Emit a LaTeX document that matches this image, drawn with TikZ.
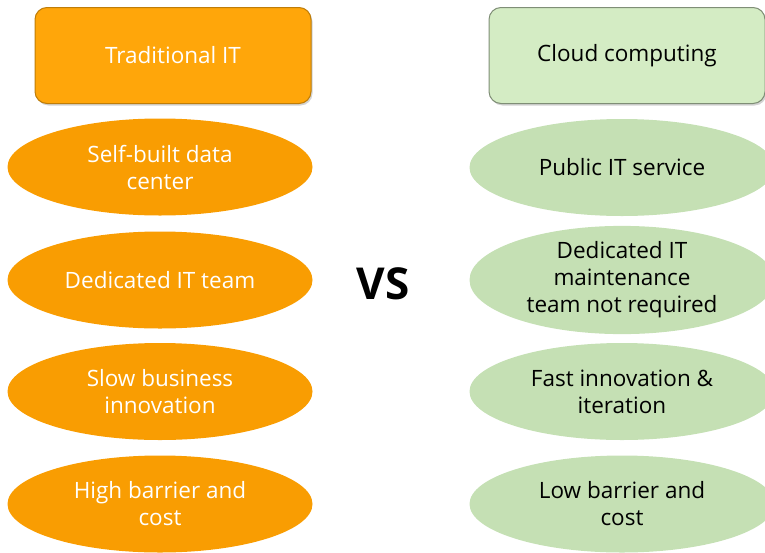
\documentclass[tikz,border=0pt]{standalone}
\usepackage{fontspec}
\setmainfont{Open Sans}
\usetikzlibrary{shapes.geometric,shadows}
\definecolor{tradorange}{RGB}{249,157,2}
\definecolor{headorange}{RGB}{255,166,10}
\definecolor{cloudgreen}{RGB}{197,224,180}
\definecolor{headgreen}{RGB}{212,236,196}
\tikzset{
	headbox/.style={rounded corners=12pt, minimum width=276pt, minimum height=96pt, line width=1pt,
		font=\fontsize{22.5}{27}\selectfont, drop shadow={shadow xshift=1.5pt, shadow yshift=-2pt, opacity=0.35}},
	itemoval/.style={ellipse, minimum width=305pt, minimum height=97pt, inner sep=0pt, align=center,
		font=\fontsize{22.5}{27}\selectfont},
	tradoval/.style={itemoval, fill=tradorange, text=white},
	cloudoval/.style={itemoval, fill=cloudgreen, text=black}
}

\begin{document}
\begin{tikzpicture}[x=1pt,y=-1pt]
			\useasboundingbox (0,0) rectangle (765,552);
			\node[headbox, fill=headorange, draw=headorange!75!black, text=white] (trad) at (173,55.5) {Traditional IT};
			\node[headbox, fill=headgreen, draw=headgreen!60!black, text=black] (cloud) at (627,55.5) {Cloud computing};
			\node[tradoval] (tradA) at (160,167) {Self-built data\\center};
			\node[tradoval] (tradB) at (160,280) {Dedicated IT team};
			\node[tradoval] (tradC) at (160,391.5) {Slow business\\innovation};
			\node[tradoval] (tradD) at (160,504) {High barrier and\\cost};
			\node[cloudoval] (cloudA) at (622,167.5) {Public IT service};
			\node[cloudoval] (cloudB) at (622,280) {Dedicated IT\\maintenance\\team not required};
			\node[cloudoval] (cloudC) at (622,391.5) {Fast innovation \&\\iteration};
			\node[cloudoval] (cloudD) at (622,504) {Low barrier and\\cost};
			\node[font=\fontsize{44}{50}\selectfont\bfseries] (vs) at (383,284) {VS};
		\end{tikzpicture}
\end{document}
